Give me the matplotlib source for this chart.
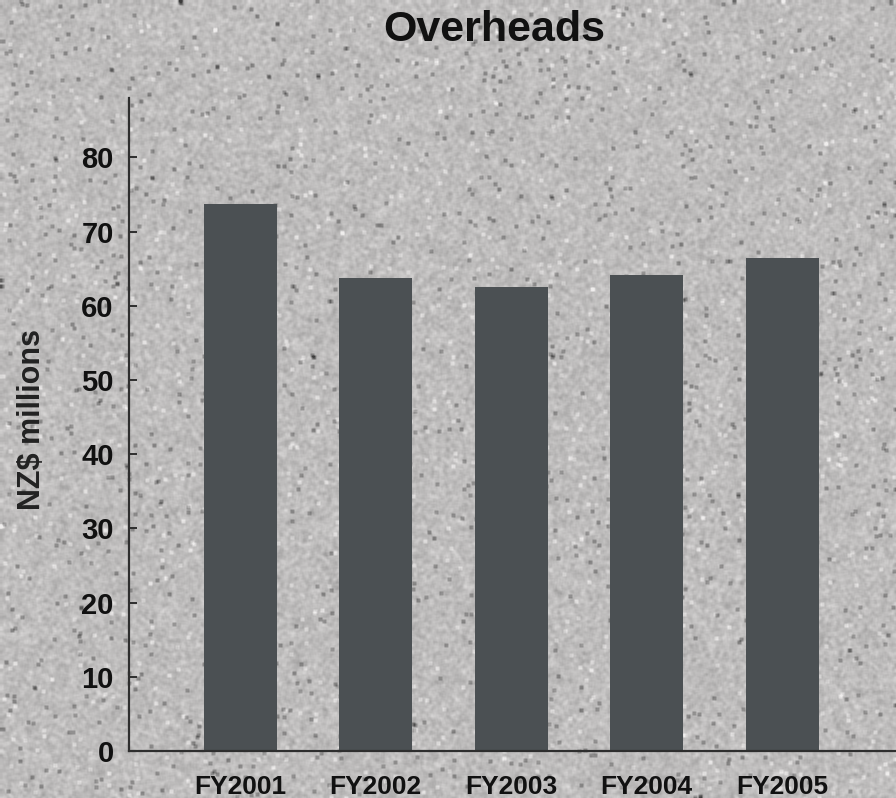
import numpy as np
import matplotlib
matplotlib.use("Agg")
import matplotlib.pyplot as plt

years = ["FY2001", "FY2002", "FY2003", "FY2004", "FY2005"]
overheads = [73.7, 63.8, 62.5, 64.2, 66.4]
yticks = [0, 10, 20, 30, 40, 50, 60, 70, 80]

plt.rcParams['font.family'] = ['Liberation Sans', 'DejaVu Sans']


def blur(img, k):
    # separable box blur, edges reflected so borders don't darken
    p = k
    img = np.pad(img, p, mode='reflect')
    ker = np.ones(k) / k
    img = np.apply_along_axis(lambda r: np.convolve(r, ker, mode='same'), 1, img)
    img = np.apply_along_axis(lambda c: np.convolve(c, ker, mode='same'), 0, img)
    return img[p:-p, p:-p]


def concrete(h, w, seed=3):
    # soft speckled stone texture for the backdrop
    rng = np.random.default_rng(seed)
    tex = np.full((h, w), 190.0)
    tex += blur(rng.normal(0, 32, (h, w)), 4)
    tex += blur(rng.normal(0, 60, (h, w)), 15) * 0.3
    dark = rng.random((h, w)) < 0.002
    tex -= blur(dark.astype(float), 4) * 800
    light = rng.random((h, w)) < 0.0015
    tex += blur(light.astype(float), 4) * 450
    tex = blur(tex, 2)
    tex = np.clip(tex, 60, 240)
    rgb = np.dstack([tex, tex * 0.992, tex * 0.99]) / 255.0
    return np.clip(rgb, 0, 1)


fig = plt.figure(figsize=(8.96, 7.98), dpi=100)

bg = fig.add_axes([0, 0, 1, 1], zorder=0)
bg.imshow(concrete(798, 896), aspect='auto', interpolation='bilinear')
bg.axis('off')

ax = fig.add_axes([129 / 896, 1 - 751 / 798, 1 - 129 / 896, (751 - 98) / 798], zorder=1)
ax.patch.set_alpha(0)

x = np.arange(len(years))
ax.bar(x, overheads, width=0.54, color='#4b5053', zorder=2)

ax.set_xlim(-0.82, 4.84)
ax.set_ylim(0, 88)
ax.set_yticks(yticks)
ax.set_xticks(x)
ax.set_xticklabels(years)

for s in ['top', 'right']:
    ax.spines[s].set_visible(False)
for s in ['left', 'bottom']:
    ax.spines[s].set_color('#2e2e2e')
    ax.spines[s].set_linewidth(1.6)

ax.tick_params(axis='y', direction='in', length=6, width=1.4, color='#2e2e2e',
               pad=11, labelsize=21)
ax.tick_params(axis='x', length=0, pad=17, labelsize=19)
for lab in ax.get_xticklabels() + ax.get_yticklabels():
    lab.set_fontweight('bold')
    lab.set_color('#111111')

fig.text(494 / 896, 1 - 30 / 798, "Overheads", ha='center', va='center',
         fontsize=31, fontweight='bold', color='#111111')
fig.text(32 / 896, 1 - 420 / 798, "NZ$ millions", ha='center', va='center',
         rotation=90, fontsize=22, fontweight='bold', color='#222222')

fig.savefig("out.png", dpi=100)
